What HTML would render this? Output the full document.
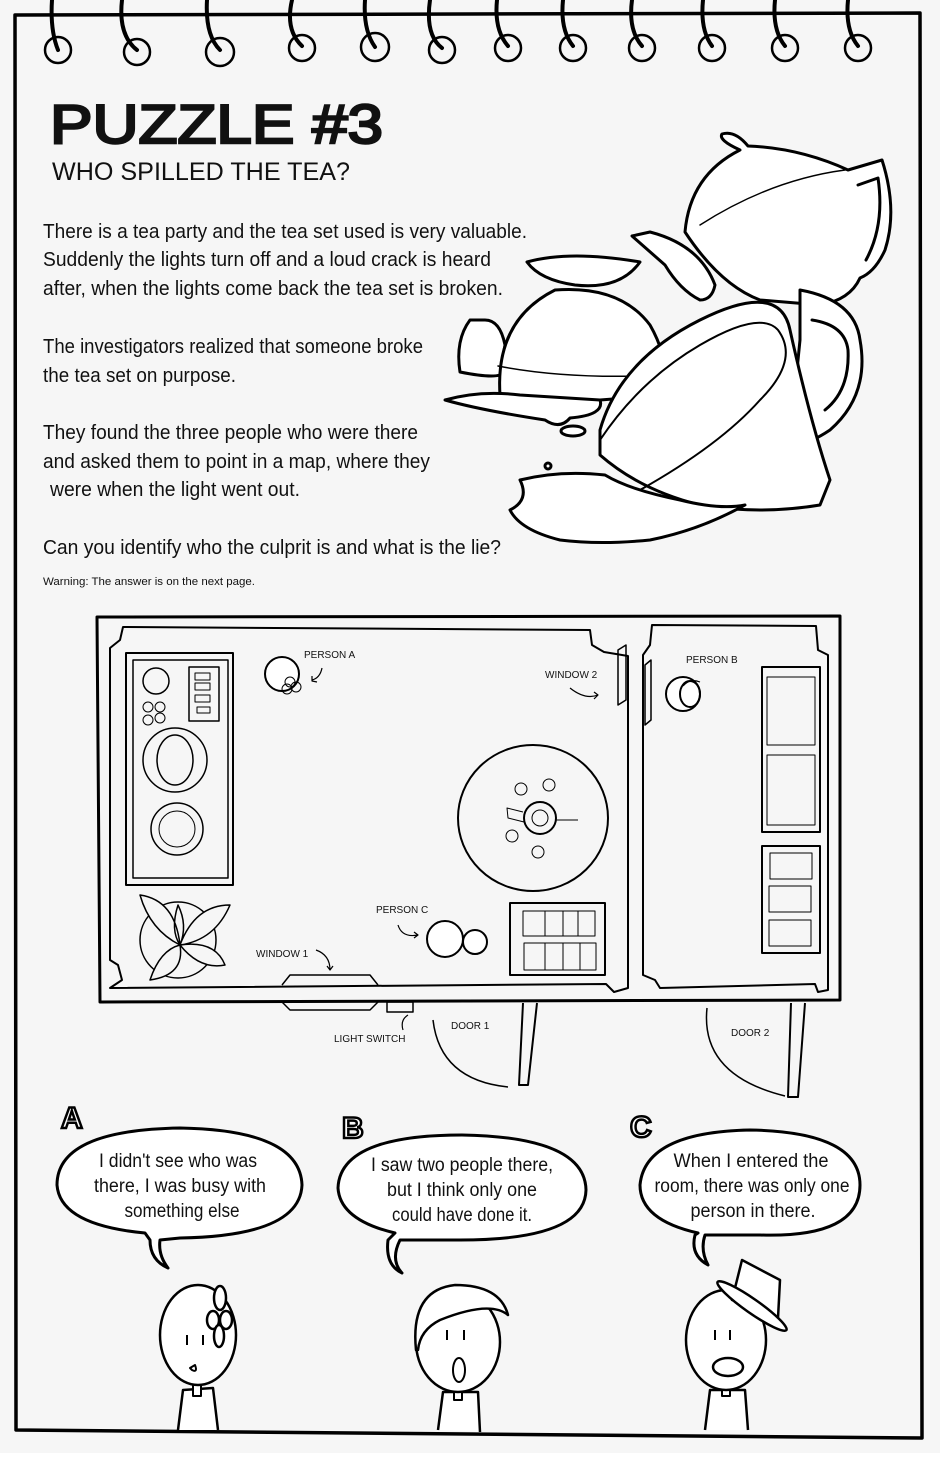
<!DOCTYPE html>
<html><head><meta charset="utf-8"><style>
html,body{margin:0;padding:0;background:#fff}
svg{display:block}
text{font-family:"Liberation Sans",sans-serif;fill:#111}
</style></head><body>
<svg width="940" height="1473" viewBox="0 0 940 1473" xmlns="http://www.w3.org/2000/svg">
<rect x="0" y="0" width="940" height="1453" fill="#f6f6f6"/>
<g fill="none" stroke="#000" stroke-linecap="round" stroke-linejoin="round">
<path d="M15,15 L920,13 L922,1438 M15,15 L16,1430 L922,1438" stroke-width="3.5"/>
<g stroke-width="4">
<path d="M52,0 Q50,30 58,50"/><circle cx="58" cy="50" r="13" stroke-width="2.5"/>
<path d="M122,0 Q118,35 137,50"/><circle cx="137" cy="52" r="13" stroke-width="2.5"/>
<path d="M207,0 Q205,35 220,50"/><circle cx="220" cy="52" r="14" stroke-width="2.5"/>
<path d="M292,0 Q285,30 302,46"/><circle cx="302" cy="48" r="13" stroke-width="2.5"/>
<path d="M365,0 Q363,30 375,47"/><circle cx="375" cy="47" r="14" stroke-width="2.5"/>
<path d="M430,0 Q425,35 442,48"/><circle cx="442" cy="50" r="13" stroke-width="2.5"/>
<path d="M497,0 Q494,30 508,46"/><circle cx="508" cy="48" r="13" stroke-width="2.5"/>
<path d="M563,0 Q560,30 573,46"/><circle cx="573" cy="48" r="13" stroke-width="2.5"/>
<path d="M632,0 Q628,30 642,46"/><circle cx="642" cy="48" r="13" stroke-width="2.5"/>
<path d="M703,0 Q700,30 712,46"/><circle cx="712" cy="48" r="13" stroke-width="2.5"/>
<path d="M775,0 Q772,30 785,46"/><circle cx="785" cy="48" r="13" stroke-width="2.5"/>
<path d="M848,0 Q845,30 858,46"/><circle cx="858" cy="48" r="13" stroke-width="2.5"/>
</g>

<!-- tea set drawing -->
<g stroke-width="3" fill="#fff">
<!-- teapot -->
<path d="M685,232 Q690,175 740,150 Q718,140 722,134 Q735,130 748,146 Q800,148 848,170 L882,160 Q898,210 885,250 Q875,272 860,278 Q850,300 820,305 L760,300 Q720,285 685,232 Z"/>
<path d="M858,185 L878,178 Q885,225 866,260" fill="none"/>
<path d="M700,225 Q770,180 845,170" fill="none" stroke-width="1.5"/>
<path d="M632,236 L650,232 Q700,245 715,285 Q712,300 700,300 Q680,290 665,265 Z"/>
<!-- sugar bowl -->
<path d="M470,320 Q455,340 460,372 Q490,378 500,375 L505,345 Q500,320 485,320 Z"/>
<path d="M500,395 Q495,320 555,290 Q620,285 650,325 Q670,360 665,395 L600,400 Q540,405 500,395 Z"/>
<path d="M498,366 Q560,378 640,376" fill="none" stroke-width="1.5"/>
<path d="M527,262 Q570,250 640,262 Q620,290 575,285 Q540,280 527,262 Z"/>
<!-- cup -->
<path d="M800,290 Q855,300 860,340 Q870,395 830,430 Q800,450 790,440 L800,340 Z"/>
<path d="M812,320 Q845,325 848,350 Q850,390 825,410" fill="none"/>
<path d="M600,430 Q620,360 700,320 Q780,280 790,330 Q810,420 830,480 L820,505 Q760,515 700,505 Q640,490 600,455 Z"/>
<path d="M600,440 Q640,380 700,345 Q760,310 778,330 Q800,360 760,400 Q720,445 640,490" fill="none" stroke-width="2"/>
<!-- puddles -->
<path d="M445,400 Q480,390 520,395 L600,400 Q605,415 570,418 Q560,430 545,420 Q480,410 445,400 Z"/>
<path d="M520,480 Q560,470 605,475 Q630,490 680,500 Q720,510 745,505 Q700,530 650,540 Q600,545 560,540 Q520,530 510,510 Q530,500 520,480 Z"/>
<ellipse cx="573" cy="431" rx="12" ry="5"/>
<circle cx="548" cy="466" r="3"/>
</g>
</g>

<!-- title -->
<text x="50" y="143" font-size="55" stroke="#111" stroke-width="2.5" textLength="333" lengthAdjust="spacingAndGlyphs">PUZZLE #3</text>
<text x="52" y="180" font-size="25" textLength="298" lengthAdjust="spacingAndGlyphs">WHO SPILLED THE TEA?</text>

<g font-size="20">
<text x="43" y="238" textLength="484" lengthAdjust="spacingAndGlyphs">There is a tea party and the tea set used is very valuable.</text>
<text x="43" y="266" textLength="448" lengthAdjust="spacingAndGlyphs">Suddenly the lights turn off and a loud crack is heard</text>
<text x="43" y="295" textLength="460" lengthAdjust="spacingAndGlyphs">after, when the lights come back the tea set is broken.</text>
<text x="43" y="353" textLength="380" lengthAdjust="spacingAndGlyphs">The investigators realized that someone broke</text>
<text x="43" y="382" textLength="193" lengthAdjust="spacingAndGlyphs">the tea set on purpose.</text>
<text x="43" y="439" textLength="375" lengthAdjust="spacingAndGlyphs">They found the three people who were there</text>
<text x="43" y="468" textLength="387" lengthAdjust="spacingAndGlyphs">and asked them to point in a map, where they</text>
<text x="50" y="496" textLength="250" lengthAdjust="spacingAndGlyphs">were when the light went out.</text>
<text x="43" y="554" textLength="458" lengthAdjust="spacingAndGlyphs">Can you identify who the culprit is and what is the lie?</text>
</g>
<text x="43" y="585" font-size="11" textLength="212" lengthAdjust="spacingAndGlyphs">Warning: The answer is on the next page.</text>

<!-- map -->
<g fill="none" stroke="#000" stroke-linejoin="round">
<path d="M97,617 L840,616 L840,1000 L100,1002 Z" stroke-width="3"/>
<path d="M110,648 L120,640 L123,627 L590,630 L592,645 L604,652 L628,656 L628,988 L614,992 L606,984 L110,988 L122,980 L118,965 L110,960 Z" stroke-width="2"/>
<path d="M643,655 L650,645 L652,625 L816,626 L818,650 L828,655 L828,990 L818,992 L815,984 L660,988 L655,980 L643,975 Z" stroke-width="2"/>
<path d="M618,650 L626,645 L626,700 L618,705 Z M645,665 L651,660 L651,720 L645,725 Z" stroke-width="1.5"/>
<rect x="126" y="653" width="107" height="232" stroke-width="2"/>
<rect x="133" y="660" width="95" height="218" stroke-width="1.5"/>
<circle cx="156" cy="681" r="13" stroke-width="1.5"/>
<rect x="189" y="667" width="30" height="54" stroke-width="1.5"/>
<rect x="195" y="673" width="15" height="7"/><rect x="195" y="683" width="15" height="7"/><rect x="195" y="695" width="15" height="7"/><rect x="197" y="707" width="13" height="6"/>
<circle cx="148" cy="707" r="5"/><circle cx="160" cy="707" r="5"/><circle cx="148" cy="720" r="5"/><circle cx="160" cy="718" r="5"/>
<circle cx="175" cy="760" r="32" stroke-width="1.5"/>
<ellipse cx="175" cy="760" rx="18" ry="25" stroke-width="1.5"/>
<circle cx="177" cy="829" r="26" stroke-width="1.5"/><circle cx="177" cy="829" r="18"/>
<circle cx="178" cy="940" r="38" stroke-width="1.5"/>
<path d="M140,895 Q175,900 180,945 Q150,930 140,895 Z M230,905 Q215,940 180,945 Q195,905 230,905 Z M150,980 Q160,950 180,945 Q185,975 150,980 Z M225,965 Q200,970 180,945 Q215,940 225,965 Z M178,905 Q170,930 180,945 Q188,925 178,905 Z" fill="#f6f6f6" stroke-width="1.5"/>
<ellipse cx="533" cy="818" rx="75" ry="73" stroke-width="2"/>
<circle cx="540" cy="818" r="16" stroke-width="2"/><circle cx="540" cy="818" r="8"/>
<path d="M523,812 L507,808 L508,818 L524,822 M556,820 L578,820"/>
<circle cx="521" cy="789" r="6"/><circle cx="549" cy="785" r="6"/><circle cx="512" cy="836" r="6"/><circle cx="538" cy="852" r="6"/>
<rect x="510" y="903" width="95" height="72" stroke-width="2"/>
<rect x="523" y="911" width="72" height="25"/><rect x="524" y="943" width="72" height="27"/>
<path d="M545,911 V936 M563,911 V936 M578,911 V936 M545,943 V970 M563,943 V970 M580,943 V970"/>
<rect x="762" y="667" width="58" height="165" stroke-width="2"/>
<rect x="767" y="677" width="48" height="68"/><rect x="767" y="755" width="48" height="70"/>
<rect x="762" y="846" width="58" height="107" stroke-width="2"/>
<rect x="770" y="853" width="42" height="26"/><rect x="769" y="886" width="42" height="26"/><rect x="769" y="920" width="42" height="26"/>
<circle cx="282" cy="674" r="17" stroke-width="2" fill="#fff"/>
<circle cx="290" cy="682" r="5"/><circle cx="296" cy="687" r="5"/><circle cx="287" cy="689" r="5"/>
<circle cx="683" cy="694" r="17" stroke-width="2" fill="#fff"/><ellipse cx="690" cy="694" rx="10" ry="13" stroke-width="2"/>
<circle cx="445" cy="939" r="18" stroke-width="2" fill="#fff"/><circle cx="475" cy="942" r="12" stroke-width="2" fill="#fff"/>
<path d="M282,985 L290,975 L370,975 L378,985 M282,1002 L290,1010 L370,1010 L378,1002" stroke-width="1.5"/>
<rect x="387" y="1002" width="26" height="10" stroke-width="1.5"/>
<path d="M523,1003 L519,1085 L528,1085 L537,1003" stroke-width="2"/>
<path d="M433,1020 Q440,1080 508,1087" stroke-width="1.5"/>
<path d="M791,1003 L788,1097 L798,1097 L805,1003" stroke-width="2"/>
<path d="M707,1008 Q700,1075 785,1096" stroke-width="1.5"/>
<g stroke-width="1.2">
<path d="M322,668 Q320,678 312,680 M312,676 L312,681 L317,682"/>
<path d="M683,686 Q690,678 700,682"/>
<path d="M570,688 Q585,700 598,695 M594,692 L598,695 L594,699"/>
<path d="M398,925 Q402,938 418,935 M414,932 L418,935 L414,938"/>
<path d="M316,950 Q330,955 330,970 M327,966 L330,970 L333,966"/>
<path d="M403,1030 Q400,1020 408,1015"/>
</g>
</g>
<g font-size="10">
<text x="304" y="658">PERSON A</text>
<text x="686" y="663">PERSON B</text>
<text x="545" y="678">WINDOW 2</text>
<text x="376" y="913">PERSON C</text>
<text x="256" y="957">WINDOW 1</text>
<text x="334" y="1042">LIGHT SWITCH</text>
<text x="451" y="1029">DOOR 1</text>
<text x="731" y="1036">DOOR 2</text>
</g>

<g font-size="30" font-weight="bold" stroke="#000" stroke-width="2.5">
<text x="61" y="1128" style="fill:#fff">A</text>
<text x="342" y="1138" style="fill:#fff">B</text>
<text x="630" y="1137" style="fill:#fff">C</text>
</g>
<g fill="#fff" stroke="#000" stroke-width="3" stroke-linejoin="round">
<path d="M145,1233 Q60,1225 57,1185 Q57,1130 180,1128 Q300,1130 302,1185 Q300,1236 180,1238 L160,1240 Q158,1255 168,1268 Q150,1260 150,1240 Z"/>
<path d="M395,1233 Q340,1220 338,1188 Q340,1135 462,1135 Q585,1137 586,1190 Q585,1240 460,1240 L400,1240 Q390,1260 402,1273 Q385,1265 388,1240 Z"/>
<path d="M698,1233 Q640,1220 640,1185 Q645,1132 750,1130 Q860,1132 860,1185 Q860,1238 760,1235 L705,1235 Q700,1250 708,1265 Q690,1255 695,1235 Z"/>
</g>
<g font-size="19" text-anchor="middle">
<text x="178" y="1167" textLength="158" lengthAdjust="spacingAndGlyphs">I didn't see who was</text>
<text x="180" y="1192" textLength="172" lengthAdjust="spacingAndGlyphs">there, I was busy with</text>
<text x="182" y="1217" textLength="115" lengthAdjust="spacingAndGlyphs">something else</text>
<text x="462" y="1171" textLength="182" lengthAdjust="spacingAndGlyphs">I saw two people there,</text>
<text x="462" y="1196" textLength="150" lengthAdjust="spacingAndGlyphs">but I think only one</text>
<text x="462" y="1221" textLength="140" lengthAdjust="spacingAndGlyphs">could have done it.</text>
<text x="751" y="1167" textLength="155" lengthAdjust="spacingAndGlyphs">When I entered the</text>
<text x="752" y="1192" textLength="195" lengthAdjust="spacingAndGlyphs">room, there was only one</text>
<text x="753" y="1217" textLength="125" lengthAdjust="spacingAndGlyphs">person in there.</text>
</g>

<g fill="#fff" stroke="#000" stroke-width="2.5" stroke-linejoin="round">
<path d="M178,1430 L183,1390 L213,1388 L218,1430"/>
<rect x="193" y="1374" width="8" height="22" stroke-width="2"/>
<ellipse cx="198" cy="1335" rx="38" ry="50"/>
<ellipse cx="220" cy="1298" rx="6" ry="12"/><ellipse cx="213" cy="1320" rx="6" ry="9"/><ellipse cx="226" cy="1320" rx="6" ry="9"/><ellipse cx="219" cy="1336" rx="5" ry="11"/>
<path d="M190,1368 L195,1365 Q198,1373 192,1370 Z" stroke-width="2"/>
<path d="M438,1430 L443,1392 L478,1392 L480,1432"/>
<rect x="454" y="1378" width="8" height="22" stroke-width="2"/>
<ellipse cx="458" cy="1342" rx="42" ry="50"/>
<path d="M416,1350 Q410,1290 455,1285 Q500,1285 508,1315 Q490,1300 440,1320 Q420,1330 418,1350 Z"/>
<ellipse cx="459" cy="1370" rx="6" ry="12" stroke-width="2"/>
<path d="M705,1430 L710,1390 L745,1390 L748,1430"/>
<rect x="722" y="1376" width="8" height="20" stroke-width="2"/>
<ellipse cx="726" cy="1340" rx="40" ry="50"/>
<path d="M732,1300 L742,1260 L780,1280 L778,1318 Z"/>
<ellipse cx="752" cy="1306" rx="42" ry="7" transform="rotate(35 752 1306)"/>
<ellipse cx="728" cy="1367" rx="15" ry="9"/>
</g>
<g stroke="#000" stroke-width="2">
<path d="M187,1335 V1345 M203,1335 V1345 M447,1330 V1340 M464,1330 V1340 M715,1330 V1340 M730,1330 V1340"/>
</g>
</svg>
</body></html>
